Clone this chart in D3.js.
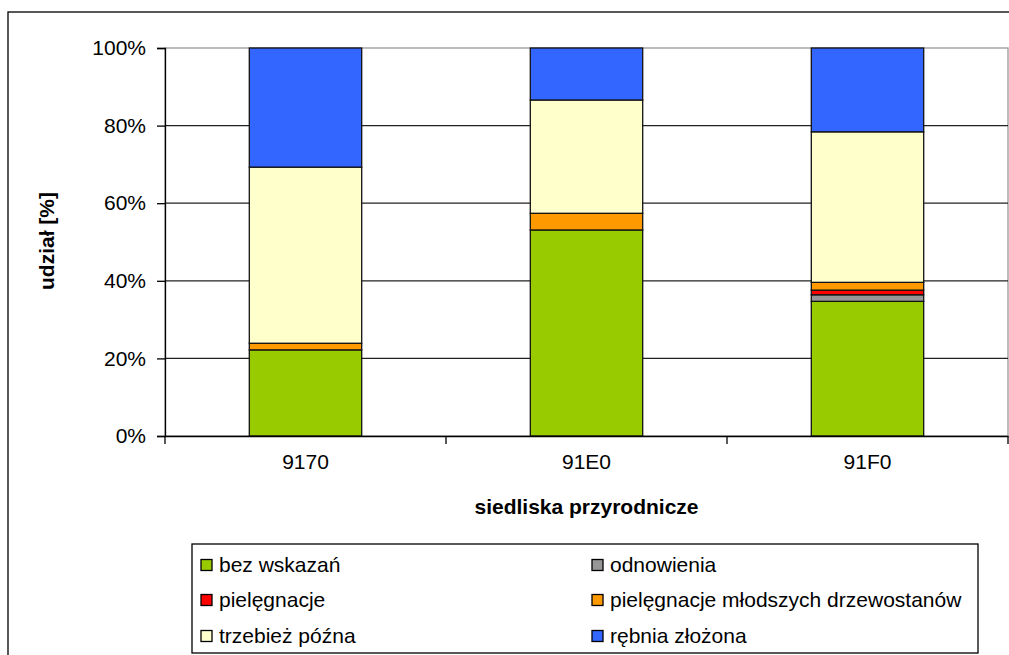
<!DOCTYPE html>
<html><head><meta charset="utf-8">
<script src="https://cdn.jsdelivr.net/npm/d3@7"></script>
<style>body{margin:0;background:#fff}svg{display:block}text{font-family:"Liberation Sans",Arial,sans-serif;fill:#000}</style>
</head><body>
<svg id="c" width="1009" height="655"></svg>
<script>
const categories = ["9170", "91E0", "91F0"];
const seriesNames = ["bez wskazań", "odnowienia", "pielęgnacje", "pielęgnacje młodszych drzewostanów", "trzebież późna", "rębnia złożona"];
const seriesColors = ["#99CC00", "#969696", "#FF0000", "#FF9900", "#FFFFCC", "#3366FF"];
const bezWskazan = [22.2, 53.1, 34.7];
const odnowienia = [0, 0, 1.7];
const pielegnacje = [0, 0, 1.2];
const pielegnacjeMlodszych = [1.7, 4.3, 2.0];
const trzebiezPozna = [45.4, 29.2, 38.8];
const rebniaZlozona = [30.7, 13.4, 21.6];
const yTicks = [0, 20, 40, 60, 80, 100];
const yTitle = "udział [%]";
const xTitle = "siedliska przyrodnicze";

const seriesValues = [bezWskazan, odnowienia, pielegnacje, pielegnacjeMlodszych, trzebiezPozna, rebniaZlozona];
const table = categories.map((c, i) => {
  const row = {cat: c};
  seriesNames.forEach((s, j) => row[s] = seriesValues[j][i]);
  return row;
});
// normalize to 100%
table.forEach(r => {
  const t = d3.sum(seriesNames, s => r[s]);
  seriesNames.forEach(s => r[s] = r[s] / t * 100);
});
const stack = d3.stack().keys(seriesNames)(table);

const svg = d3.select("#c");
const L = 165, R = 1008, T = 48, B = 436;
const x = d3.scaleBand().domain(categories).range([L, R]).paddingInner(0.6).paddingOuter(0.3);
const xc = d3.scaleBand().domain(categories).range([L, R]).padding(0);
const y = d3.scaleLinear().domain([0, 100]).range([B, T]);

// outer border
svg.append("rect").attr("x", 8).attr("y", 12).attr("width", 1030).attr("height", 700)
  .attr("fill", "none").attr("stroke", "#000").attr("stroke-width", 1.3);

// plot area border (gray)
svg.append("rect").attr("x", L).attr("y", T).attr("width", R - L).attr("height", B - T)
  .attr("fill", "#fff").attr("stroke", "#999").attr("stroke-width", 1.3);

// gridlines
svg.append("g").selectAll("line").data(yTicks.filter(t => t > 0 && t < 100)).join("line")
  .attr("x1", L).attr("x2", R).attr("y1", d => y(d)).attr("y2", d => y(d))
  .attr("stroke", "#222").attr("stroke-width", 1.3);

// bars
svg.append("g").selectAll("g").data(stack).join("g")
  .attr("fill", (d, i) => seriesColors[i])
  .selectAll("rect").data(d => d.filter(p => p[1] - p[0] > 0)).join("rect")
  .attr("x", d => x(d.data.cat)).attr("width", x.bandwidth())
  .attr("y", d => y(d[1])).attr("height", d => y(d[0]) - y(d[1]))
  .attr("stroke", "#111").attr("stroke-width", 1.3);

// y axis
const yAxis = svg.append("g").attr("transform", `translate(${L},0)`)
  .call(d3.axisLeft(y).tickValues(yTicks).tickFormat(d => d + "%").tickSize(8).tickPadding(11));
yAxis.select(".domain").attr("stroke", "#000").attr("stroke-width", 1.3);
yAxis.selectAll(".tick line").attr("stroke", "#000").attr("stroke-width", 1.3);
yAxis.selectAll("text").style("font-size", "21px").style("font-family", "Liberation Sans, Arial, sans-serif").attr("fill", "#000");

// x axis
const xAxis = svg.append("g").attr("transform", `translate(0,${B})`)
  .call(d3.axisBottom(xc).tickSize(0).tickPadding(18));
xAxis.select(".domain").attr("stroke", "#000").attr("stroke-width", 1.3);
xAxis.selectAll("text").style("font-size", "21px").style("font-family", "Liberation Sans, Arial, sans-serif").attr("fill", "#000");
// category separator ticks
const sepPositions = categories.map(c => xc(c)).concat([xc(categories[categories.length - 1]) + xc.bandwidth()]);
svg.append("g").selectAll("line").data(sepPositions).join("line")
  .attr("x1", d => d).attr("x2", d => d).attr("y1", B).attr("y2", B + 8)
  .attr("stroke", "#000").attr("stroke-width", 1.3);

// axis titles
svg.append("text").attr("x", (L + R) / 2).attr("y", 507).attr("dy", "0.35em")
  .attr("text-anchor", "middle").style("font-size", "21px").style("font-weight", "bold").text(xTitle);
svg.append("text").attr("transform", "translate(47,241) rotate(-90)").attr("dy", "0.35em")
  .attr("text-anchor", "middle").style("font-size", "21px").style("font-weight", "bold").text(yTitle);

// legend
svg.append("rect").attr("x", 192).attr("y", 544).attr("width", 978 - 192).attr("height", 653 - 544)
  .attr("fill", "#fff").attr("stroke", "#000").attr("stroke-width", 1.3);
const colX = [201, 592], rowY = [565, 600, 636];
const lg = svg.append("g").selectAll("g").data(seriesNames).join("g")
  .attr("transform", (d, i) => `translate(${colX[i % 2]},${rowY[Math.floor(i / 2)]})`);
lg.append("rect").attr("x", 0).attr("y", -5.5).attr("width", 11).attr("height", 11)
  .attr("fill", (d, i) => seriesColors[i]).attr("stroke", "#000").attr("stroke-width", 1.3);
lg.append("text").attr("x", 18).attr("dy", "0.35em").style("font-size", "21px").text(d => d);
</script>
</body></html>
